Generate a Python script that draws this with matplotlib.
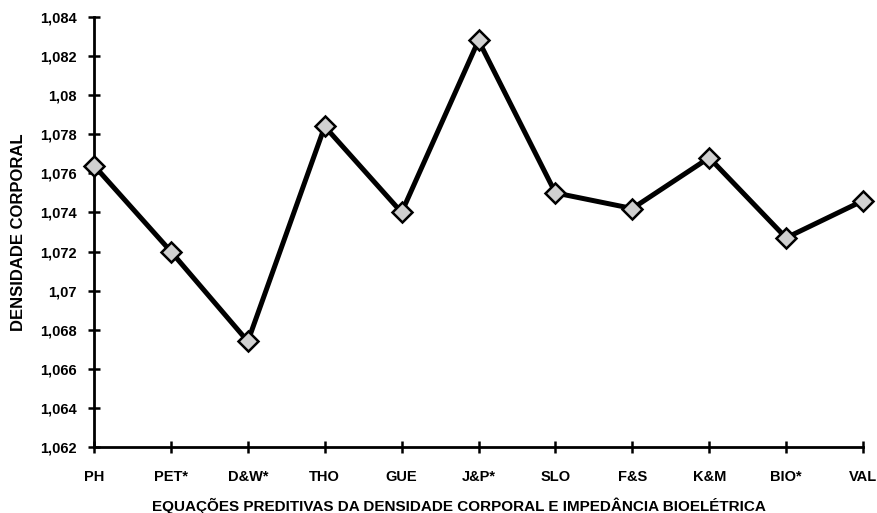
import matplotlib.pyplot as plt
from matplotlib.ticker import FuncFormatter

plt.rcParams['font.family'] = ['Liberation Sans', 'DejaVu Sans']
plt.rcParams['font.weight'] = 'bold'

equacoes = ["PH", "PET*", "D&W*", "THO", "GUE", "J&P*", "SLO", "F&S", "K&M", "BIO*", "VAL"]
densidade = [1.0764, 1.0720, 1.0674, 1.0784, 1.0740, 1.0828, 1.0750, 1.0742, 1.0768, 1.0727, 1.0746]
y_ticks = [1.062, 1.064, 1.066, 1.068, 1.07, 1.072, 1.074, 1.076, 1.078, 1.08, 1.082, 1.084]

fig = plt.figure(figsize=(8.78, 5.13), dpi=100)
ax = fig.add_axes([0.1071, 0.1287, 0.8758, 0.8382])

x = range(len(equacoes))
ax.plot(x, densidade, color='black', linewidth=3.6, marker='D', markersize=10,
        markerfacecolor='#d0d0d0', markeredgecolor='black', markeredgewidth=1.8,
        clip_on=False, zorder=3)

ax.set_xlim(0, len(equacoes) - 1)
ax.set_ylim(1.062, 1.084)
ax.set_xticks(list(x))
ax.set_xticklabels(equacoes)
ax.set_yticks(y_ticks)


def virgula(v, pos):
    s = f"{v:.3f}".rstrip('0').rstrip('.')
    return s.replace('.', ',')


ax.yaxis.set_major_formatter(FuncFormatter(virgula))

for s in ['top', 'right']:
    ax.spines[s].set_visible(False)
for s in ['left', 'bottom']:
    ax.spines[s].set_linewidth(2)

ax.tick_params(axis='both', direction='inout', length=9, width=1.8, labelsize=10.5)
ax.tick_params(axis='x', pad=12)
ax.tick_params(axis='y', pad=8)

ax.set_xlabel("EQUAÇÕES PREDITIVAS DA DENSIDADE CORPORAL E IMPEDÂNCIA BIOELÉTRICA",
              fontsize=11, fontweight='bold')
ax.xaxis.set_label_coords(0.475, -0.118)
ax.set_ylabel("DENSIDADE CORPORAL", fontsize=12, fontweight='bold', labelpad=10)

fig.savefig("out.png", dpi=100)
